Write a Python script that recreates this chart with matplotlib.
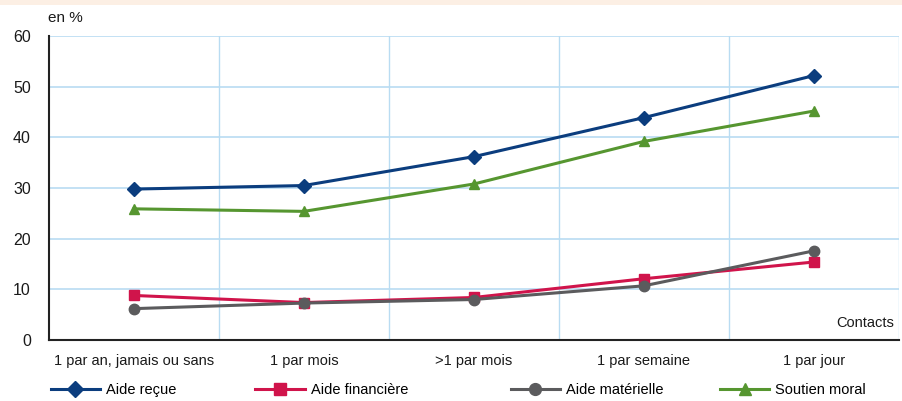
import matplotlib.pyplot as plt
from matplotlib.patches import Rectangle
from matplotlib.lines import Line2D

plt.rcParams['font.family'] = ['Liberation Sans', 'DejaVu Sans']

# Data
contacts = ["1 par an, jamais ou sans", "1 par mois", ">1 par mois", "1 par semaine", "1 par jour"]
aide_recue = [29.8, 30.5, 36.2, 43.9, 52.2]
aide_financiere = [8.8, 7.4, 8.4, 12.1, 15.4]
aide_materielle = [6.2, 7.3, 8.0, 10.7, 17.6]
soutien_moral = [25.9, 25.4, 30.8, 39.2, 45.2]

series = [
    ("Aide reçue", aide_recue, "#0b3d7e", "D"),
    ("Aide financière", aide_financiere, "#d0144b", "s"),
    ("Aide matérielle", aide_materielle, "#5b5b5d", "o"),
    ("Soutien moral", soutien_moral, "#569630", "^"),
]

fig = plt.figure(figsize=(9.02, 4.01), dpi=100)
# thin peach band at the top edge
fig.patches.append(Rectangle((0, 0.988), 1, 0.012, transform=fig.transFigure,
                             facecolor="#fcefe4", edgecolor="none"))

ax = fig.add_axes([0.0543, 0.152, 0.942, 0.758])
x = list(range(len(contacts)))

for label, vals, color, marker in series:
    ax.plot(x, vals, color=color, lw=2.2, marker=marker, markersize=7.5,
            markeredgecolor=color, label=label, zorder=3)

ax.set_xlim(-0.5, len(contacts) - 0.5)
ax.set_ylim(0, 60)
ax.set_yticks(range(0, 61, 10))
ax.set_xticks(x)
ax.set_xticklabels(contacts)
ax.tick_params(axis="both", length=0, labelsize=10.5, colors="#1a1a1a")
ax.tick_params(axis="y", labelsize=11.5)
ax.tick_params(axis="x", pad=10)
ax.tick_params(axis="y", pad=13)

# grid: horizontal at every 10, vertical at category boundaries
for yv in range(10, 61, 10):
    ax.axhline(yv, color="#b9dcf2", lw=1.2, zorder=1)
for xb in [0.5, 1.5, 2.5, 3.5, 4.5]:
    ax.axvline(xb, color="#b9dcf2", lw=1.0, zorder=1)

for side in ["top", "right"]:
    ax.spines[side].set_visible(False)
ax.spines["left"].set_color("#222222")
ax.spines["bottom"].set_color("#222222")
ax.spines["left"].set_linewidth(1.5)
ax.spines["bottom"].set_linewidth(1.5)

fig.text(0.053, 0.955, "en %", fontsize=11, ha="left", va="center", color="#1a1a1a")
ax.text(0.995, 0.055, "Contacts", transform=ax.transAxes, ha="right", va="center",
        fontsize=10.5, color="#1a1a1a")

# legend entries placed individually along the bottom
legend_x = [0.056, 0.283, 0.566, 0.798]
for (label, vals, color, marker), lx in zip(series, legend_x):
    h = Line2D([], [], color=color, lw=2.2, marker=marker, markersize=8.5,
               markeredgecolor=color)
    fig.legend([h], [label], loc="center left", bbox_to_anchor=(lx, 0.028),
               frameon=False, fontsize=10.5, handlelength=3.4, handletextpad=0.4,
               borderaxespad=0, borderpad=0)

fig.savefig("out.png", dpi=100)
